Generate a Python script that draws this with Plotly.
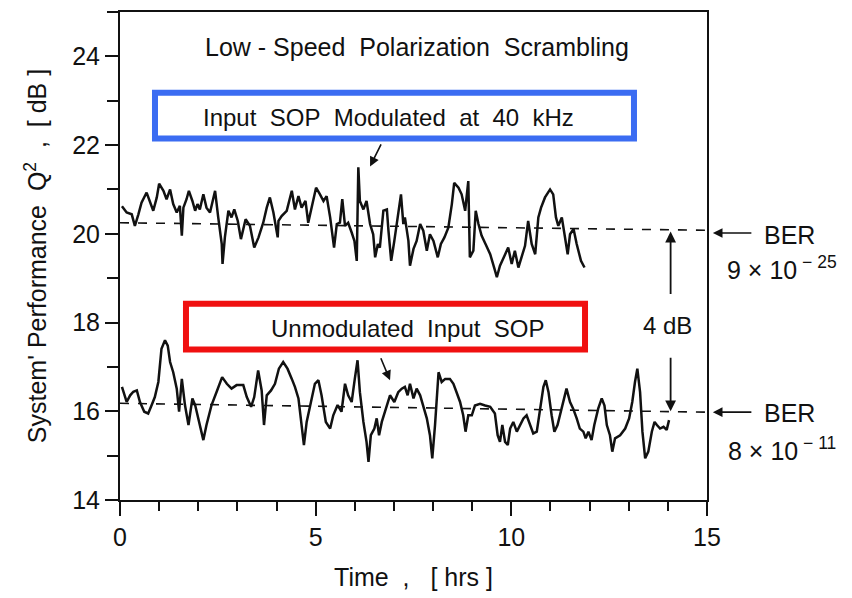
import plotly.graph_objects as go

# ---------------- data ----------------
mod_time = [0.05, 0.17, 0.30, 0.38, 0.47, 0.55, 0.68, 0.77, 0.85, 0.94, 1.00, 1.11, 1.19, 1.28, 1.36,
            1.45, 1.53, 1.58, 1.62, 1.70, 1.76, 1.85, 1.92, 1.98, 2.04, 2.13, 2.21, 2.30, 2.43, 2.51,
            2.60, 2.62, 2.68, 2.77, 2.85, 2.92, 3.01, 3.09, 3.21, 3.32, 3.43, 3.54, 3.66, 3.75, 3.83,
            3.92, 4.03, 4.05, 4.13, 4.26, 4.39, 4.47, 4.56, 4.64, 4.74, 4.81, 4.91, 5.01, 5.11, 5.20,
            5.28, 5.37, 5.47, 5.54, 5.62, 5.68, 5.75, 5.83, 5.92, 5.99, 6.05, 6.09, 6.13, 6.22, 6.30,
            6.39, 6.47, 6.52, 6.59, 6.64, 6.73, 6.82, 6.86, 6.93, 7.01, 7.10, 7.18, 7.24, 7.28, 7.37,
            7.41, 7.50, 7.58, 7.67, 7.75, 7.84, 7.92, 8.01, 8.12, 8.20, 8.29, 8.39, 8.48, 8.54, 8.65,
            8.73, 8.82, 8.90, 8.94, 9.03, 9.09, 9.16, 9.24, 9.34, 9.46, 9.57, 9.63, 9.71, 9.80, 9.92,
            10.01, 10.09, 10.18, 10.26, 10.35, 10.43, 10.52, 10.61, 10.69, 10.76, 10.86, 10.99, 11.07,
            11.14, 11.20, 11.29, 11.37, 11.44, 11.50, 11.59, 11.67, 11.78, 11.87]
mod_q = [20.62, 20.48, 20.44, 20.18, 20.44, 20.70, 20.93, 20.70, 20.52, 20.82, 21.13, 20.97, 20.78, 21.00, 20.67,
         20.48, 20.63, 19.96, 20.59, 20.78, 20.97, 20.74, 20.52, 20.67, 20.55, 20.89, 20.59, 20.48, 20.97, 20.37,
         19.77, 19.32, 19.92, 20.52, 20.37, 20.55, 20.29, 19.88, 20.33, 20.18, 19.69, 19.92, 20.25, 20.59, 20.82,
         20.48, 19.92, 20.29, 20.40, 20.52, 20.97, 20.55, 20.85, 20.59, 20.74, 20.25, 20.63, 21.04, 20.89, 20.74,
         20.85, 20.37, 19.69, 20.22, 20.25, 20.78, 20.18, 20.25, 20.03, 19.84, 19.39, 21.50, 20.74, 20.55, 20.74,
         20.22, 19.99, 19.47, 19.77, 19.69, 20.52, 20.55, 20.07, 19.39, 19.84, 20.37, 20.89, 20.22, 20.37, 19.84,
         19.28, 19.66, 19.84, 20.22, 20.07, 19.62, 19.99, 19.84, 19.47, 19.77, 19.92, 20.14, 20.67, 21.15, 21.04,
         20.89, 20.52, 21.19, 19.47, 19.62, 20.52, 20.22, 19.96, 19.77, 19.54, 19.21, 19.02, 19.28, 19.47, 19.69,
         19.32, 19.62, 19.24, 19.47, 19.73, 20.29, 19.77, 19.54, 20.37, 20.59, 20.82, 21.00, 20.89,
         20.37, 20.18, 20.37, 19.92, 19.54, 19.99, 20.11, 19.77, 19.39, 19.24]

unmod_time = [0.05, 0.17, 0.26, 0.34, 0.43, 0.51, 0.62, 0.72, 0.81, 0.89, 0.98, 1.06, 1.15, 1.22, 1.28,
              1.36, 1.45, 1.51, 1.58, 1.66, 1.75, 1.85, 1.92, 2.02, 2.13, 2.21, 2.34, 2.47, 2.61, 2.73,
              2.85, 2.98, 3.15, 3.24, 3.35, 3.43, 3.53, 3.62, 3.68, 3.75, 3.86, 3.96, 4.06, 4.17, 4.28,
              4.39, 4.47, 4.56, 4.64, 4.70, 4.77, 4.90, 4.98, 5.07, 5.15, 5.26, 5.37, 5.45, 5.56, 5.66,
              5.75, 5.83, 5.92, 6.00, 6.07, 6.13, 6.22, 6.30, 6.35, 6.41, 6.50, 6.56, 6.62, 6.69, 6.79,
              6.90, 7.01, 7.11, 7.20, 7.28, 7.35, 7.41, 7.50, 7.58, 7.67, 7.75, 7.84, 7.92, 7.98, 8.05,
              8.14, 8.22, 8.31, 8.43, 8.52, 8.60, 8.69, 8.77, 8.83, 8.90, 8.99, 9.07, 9.20, 9.33, 9.46,
              9.58, 9.65, 9.71, 9.77, 9.84, 9.91, 9.97, 10.05, 10.14, 10.22, 10.31, 10.39, 10.48, 10.56,
              10.65, 10.73, 10.82, 10.88, 10.95, 11.03, 11.10, 11.18, 11.24, 11.33, 11.41, 11.50, 11.58,
              11.67, 11.75, 11.84, 11.90, 11.97, 12.05, 12.12, 12.22, 12.31, 12.38, 12.44, 12.52, 12.58,
              12.65, 12.78, 12.91, 13.01, 13.09, 13.16, 13.22, 13.29, 13.35, 13.42, 13.50, 13.59, 13.66,
              13.72, 13.80, 13.89, 13.97, 14.03]
unmod_q = [16.55, 16.21, 16.36, 16.44, 16.47, 16.21, 15.99, 15.95, 16.14, 16.32, 16.66, 17.41, 17.60, 17.48, 17.11,
           16.88, 16.51, 15.99, 16.73, 16.14, 15.69, 16.29, 16.14, 15.76, 15.35, 15.69, 16.14, 16.44, 16.77, 16.62,
           16.51, 16.59, 16.59, 16.32, 16.10, 16.32, 16.92, 16.47, 15.69, 16.36, 16.47, 16.62, 16.96, 17.11, 16.96,
           16.73, 16.55, 16.29, 15.69, 15.24, 15.76, 16.29, 16.62, 16.70, 16.36, 15.76, 15.61, 15.91, 16.14, 15.99,
           16.62, 16.36, 16.21, 16.73, 17.15, 16.43, 15.76, 15.31, 14.86, 15.46, 15.61, 15.84, 15.46, 15.76, 16.06,
           16.36, 16.21, 16.43, 16.51, 16.55, 16.36, 16.62, 16.29, 16.51, 16.36, 16.13, 15.84, 15.46, 14.94, 15.69,
           16.88, 16.66, 16.73, 16.73, 16.62, 16.43, 16.21, 15.91, 15.54, 15.91, 15.91, 16.13, 16.17, 16.13, 16.10,
           15.95, 15.46, 15.31, 15.69, 15.31, 15.24, 15.61, 15.76, 15.54, 15.69, 15.84, 15.91, 15.69, 15.50,
           15.54, 16.06, 16.55, 16.70, 16.43, 15.91, 15.54, 15.69, 15.91, 16.21, 16.51, 16.21, 16.06,
           15.84, 15.61, 15.54, 15.39, 15.54, 15.35, 15.69, 16.06, 16.29, 16.13, 15.69, 15.46, 15.09,
           15.39, 15.46, 15.61, 15.84, 16.21, 16.66, 16.96, 16.43, 15.54, 14.94, 15.09, 15.54, 15.76,
           15.69, 15.61, 15.65, 15.58, 15.80]

ref_time = [0, 15]
ref_upper = [20.25, 20.08]   # BER 9e-25 level (dashed)
ref_lower = [16.18, 15.98]   # BER 8e-11 level (dashed)

x_ticks = [0, 5, 10, 15]
y_ticks = [14, 16, 18, 20, 22, 24]

FONT = "Liberation Sans"
BLACK = "#111111"

fig = go.Figure()
fig.add_trace(go.Scatter(x=ref_time, y=ref_upper, mode="lines",
                         line=dict(color=BLACK, width=1.6, dash="dash"), showlegend=False))
fig.add_trace(go.Scatter(x=ref_time, y=ref_lower, mode="lines",
                         line=dict(color=BLACK, width=1.6, dash="dash"), showlegend=False))
fig.add_trace(go.Scatter(x=mod_time, y=mod_q, mode="lines",
                         line=dict(color=BLACK, width=2.5), showlegend=False))
fig.add_trace(go.Scatter(x=unmod_time, y=unmod_q, mode="lines",
                         line=dict(color=BLACK, width=2.5), showlegend=False))

nb = "\u00a0"


def label(x, y, text, size, xref="paper", yref="paper"):
    return dict(x=x, y=y, xref=xref, yref=yref, showarrow=False, text=text,
                xanchor="center", yanchor="middle", font=dict(size=size, color=BLACK))


def arrow(x, y, ax, ay, xref="x", yref="y", axref="pixel", ayref="pixel", width=1.6):
    return dict(x=x, y=y, ax=ax, ay=ay, xref=xref, yref=yref, axref=axref, ayref=ayref,
                showarrow=True, arrowhead=2, arrowsize=1.2, arrowwidth=width,
                arrowcolor=BLACK, text=" ", font=dict(size=1))


annotations = [
    label(0.506, 0.928, f"Low{nb}-{nb}Speed{nb} Polarization{nb} Scrambling", 25),
    label(0.457, 0.784, f"Input{nb} SOP{nb} Modulated{nb} at{nb} 40{nb} kHz", 24),
    label(0.491, 0.351, f"Unmodulated{nb} Input{nb} SOP", 24),
    # pointer arrows
    arrow(6.39, 21.52, 12, -24),
    arrow(6.90, 16.70, -10, -24),
    # 4 dB double arrow
    arrow(14.07, 20.05, 14.07, 18.6, axref="x", ayref="y", width=1.8),
    arrow(14.07, 16.0, 14.07, 17.25, axref="x", ayref="y", width=1.8),
    label(13.98, 17.93, "4 dB", 24, xref="x", yref="y"),
    # BER labels on the right
    arrow(1.010, 20.02, 40, 0, xref="paper"),
    label(1.141, 19.98, "BER", 25, yref="y"),
    label(1.128, 19.24, f"9{nb}×{nb}10<sup>{nb}−{nb}25</sup>", 25, yref="y"),
    arrow(1.010, 15.98, 40, 0, xref="paper"),
    label(1.141, 15.96, "BER", 25, yref="y"),
    label(1.128, 15.15, f"8{nb}×{nb}10<sup>{nb}−{nb}11</sup>", 25, yref="y"),
]

shapes = [
    dict(type="rect", xref="paper", yref="paper", x0=0.0596, x1=0.8756, y0=0.7408, y1=0.8347,
         line=dict(color="#3b6cf2", width=6)),
    dict(type="rect", xref="paper", yref="paper", x0=0.1124, x1=0.7922, y0=0.3082, y1=0.4020,
         line=dict(color="#f01010", width=6)),
]

fig.update_layout(
    width=852, height=598,
    margin=dict(l=120, r=145, t=10, b=98),
    paper_bgcolor="white", plot_bgcolor="white",
    font=dict(family=FONT, color=BLACK),
    annotations=annotations, shapes=shapes,
    showlegend=False,
)
fig.update_xaxes(
    range=[0, 15], tickvals=x_ticks, ticktext=[str(v) for v in x_ticks],
    showline=True, linecolor=BLACK, linewidth=2, mirror=True,
    ticks="outside", ticklen=14, tickwidth=2, tickcolor=BLACK,
    minor=dict(dtick=1, ticks="outside", ticklen=9, tickwidth=2, tickcolor=BLACK, showgrid=False),
    showgrid=False, zeroline=False,
    tickfont=dict(size=25, family=FONT, color=BLACK),
    title=dict(text=f"Time{nb} ,{nb} {nb}[{nb}hrs{nb}]", font=dict(size=25, family=FONT, color=BLACK), standoff=18),
)
fig.update_yaxes(
    range=[14, 25], tickvals=y_ticks, ticktext=[str(v) for v in y_ticks],
    showline=True, linecolor=BLACK, linewidth=2, mirror=True,
    ticks="outside", ticklen=13, tickwidth=2, tickcolor=BLACK,
    minor=dict(dtick=1, ticks="outside", ticklen=11, tickwidth=2, tickcolor=BLACK, showgrid=False),
    showgrid=False, zeroline=False,
    tickfont=dict(size=25, family=FONT, color=BLACK),
    title=dict(text=f"System'{nb}Performance{nb} Q<sup>2</sup>{nb} ,{nb} [{nb}dB{nb}]",
               font=dict(size=25, family=FONT, color=BLACK), standoff=18),
)

fig.write_html("out.html")
